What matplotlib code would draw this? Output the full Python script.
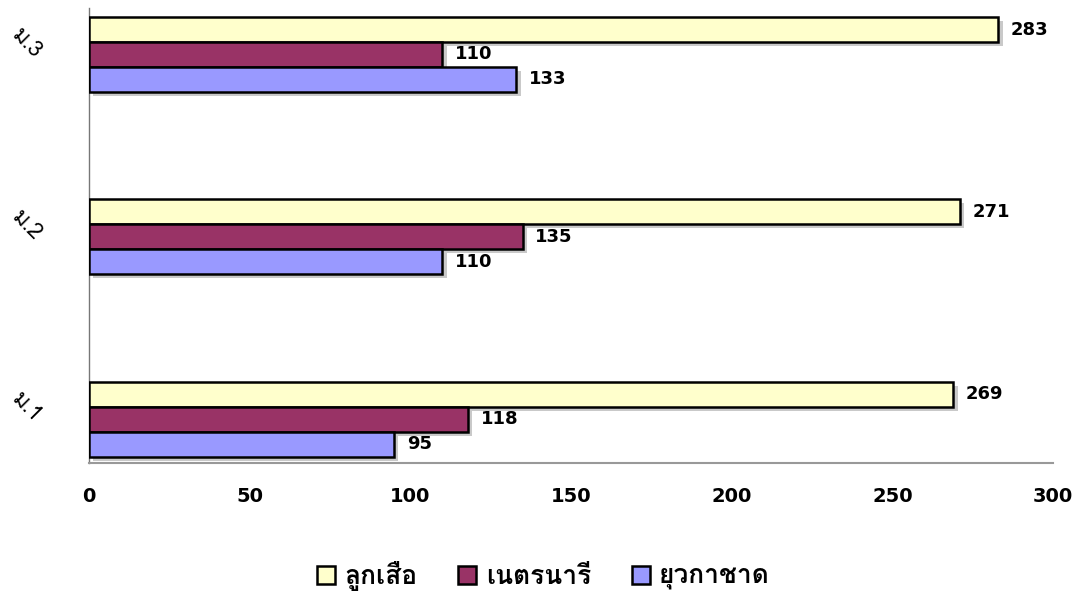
import matplotlib
matplotlib.use("Agg")
import matplotlib.pyplot as plt
from matplotlib import font_manager
from matplotlib.ft2font import FT2Font
from matplotlib.transforms import ScaledTranslation
import matplotlib.patheffects as pe
import numpy as np

# --- data ---
grades = ["ม.1", "ม.2", "ม.3"]
series_names = ["ลูกเสือ", "เนตรนารี", "ยุวกาชาด"]
scouts = [269, 271, 283]
girl_guides = [118, 135, 110]
red_cross = [95, 110, 133]
x_ticks = [0, 50, 100, 150, 200, 250, 300]

colors = ["#FFFFCC", "#993366", "#9999FF"]


def find_thai_font():
    # pick the first installed font that actually has Thai glyphs
    seen = set()
    for f in font_manager.fontManager.ttflist:
        if f.name in seen:
            continue
        try:
            cmap = FT2Font(f.fname).get_charmap()
        except Exception:
            continue
        if 0x0E25 in cmap and 0x0E2A in cmap:
            return f.name
        seen.add(f.name)
    return None


thai = find_thai_font()
families = [thai, "DejaVu Sans"] if thai else ["DejaVu Sans"]
plt.rcParams["font.family"] = families

fig = plt.figure(figsize=(10.87, 5.91), dpi=100)
ax = fig.add_axes([89 / 1087, 1 - 463 / 591, (1053 - 89) / 1087, (463 - 8) / 591])

y = np.arange(len(grades))
h = 0.137
shadow = [pe.SimplePatchShadow(offset=(3, -3), shadow_rgbFace="#666666", alpha=0.35), pe.Normal()]

for vals, name, col, off in zip([scouts, girl_guides, red_cross], series_names, colors, [h, 0, -h]):
    bars = ax.barh(y + off, vals, height=h, color=col, edgecolor="black", linewidth=1.8,
                   label=name, zorder=3)
    for b in bars:
        b.set_path_effects(shadow)
    ax.bar_label(bars, padding=9, fontsize=13, fontweight="bold",
                 family="DejaVu Sans")

ax.set_xlim(0, 300)
ax.set_ylim(-0.241, 2.255)
ax.set_xticks(x_ticks)
ax.set_xticklabels([str(t) for t in x_ticks], fontsize=14, fontweight="bold", family="DejaVu Sans")
ax.tick_params(axis="x", length=0, pad=17)

ax.set_yticks(y)
ax.set_yticklabels(grades, fontsize=16, rotation=-45, ha="center", va="center")
ax.tick_params(axis="y", length=0, pad=45)
for lbl in ax.get_yticklabels():
    lbl.set_transform(lbl.get_transform() + ScaledTranslation(0, 11 / 100, fig.dpi_scale_trans))

for s in ["top", "right"]:
    ax.spines[s].set_visible(False)
ax.spines["left"].set_color("#777777")
ax.spines["bottom"].set_color("#999999")
ax.spines["left"].set_linewidth(1)
ax.spines["bottom"].set_linewidth(1.5)

leg = fig.legend(loc="center", bbox_to_anchor=(0.5, 1 - 576 / 591), ncol=3, frameon=False,
                 fontsize=19, handlelength=0.68, handleheight=0.68, handletextpad=0.35,
                 columnspacing=1.55)
for t in leg.get_texts():
    t.set_fontweight("bold")
for p in leg.get_patches():
    p.set_path_effects([pe.Normal()])

fig.savefig("out.png", dpi=100)
